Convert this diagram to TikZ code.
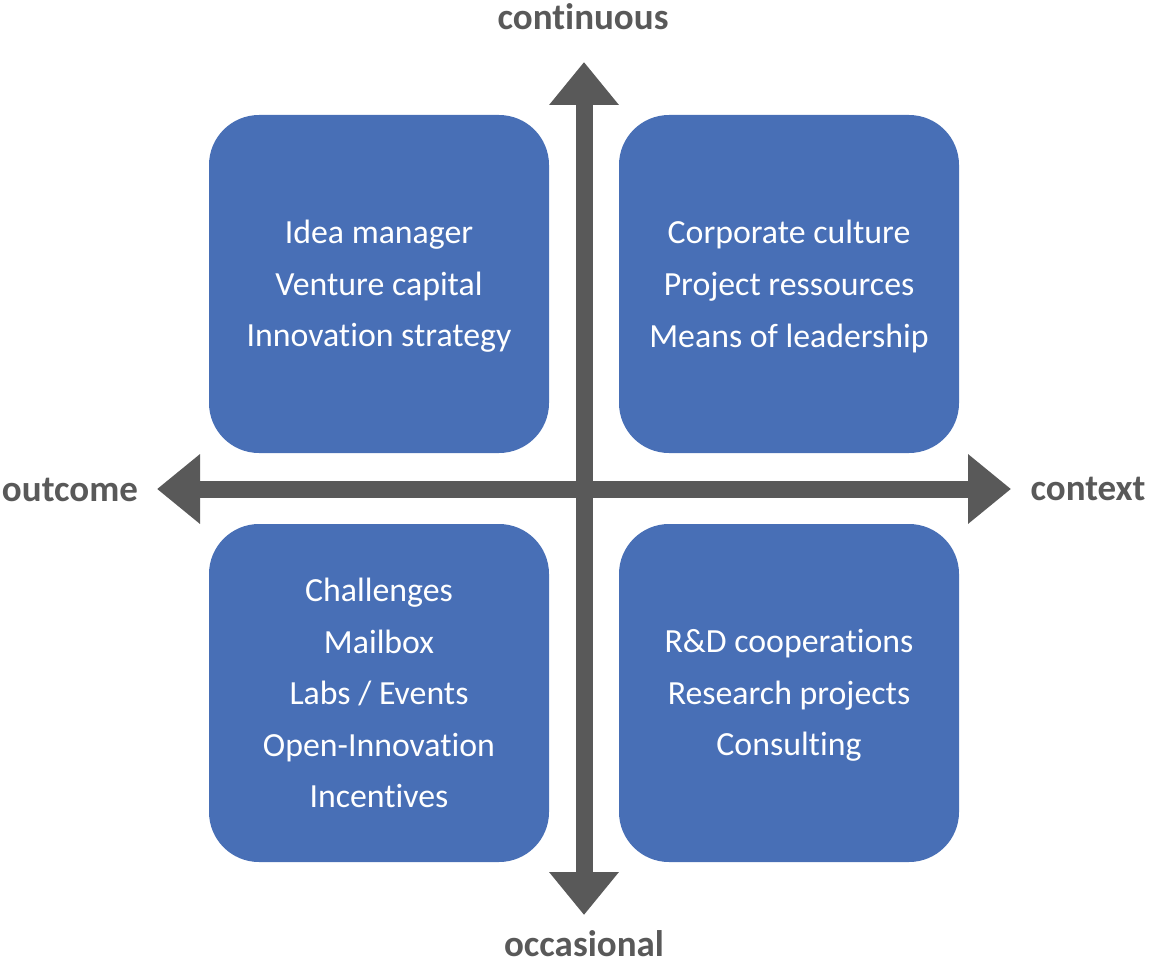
\documentclass[tikz,border=0pt]{standalone}
\usepackage{fontspec}
\setmainfont[Ligatures=NoCommon]{Carlito}
\usetikzlibrary{arrows.meta}
\definecolor{boxblue}{HTML}{486FB6}
\definecolor{axisgray}{HTML}{595959}
\begin{document}
\begin{tikzpicture}[x=1pt,y=-1pt,
  quad/.style={fill=boxblue, draw=none, rounded corners=50pt, minimum width=340pt, minimum height=338pt, inner sep=0pt},
  quadtext/.style={text=white, align=center, font=\fontsize{33.8}{51.6}\selectfont},
  axislabel/.style={text=axisgray, font=\fontsize{37}{44}\selectfont\bfseries, inner sep=0pt},
  axis/.style={draw=axisgray, line width=17pt, {Triangle[width=67pt,length=43pt]}-{Triangle[width=67pt,length=43pt]}}]
\useasboundingbox (0,0) rectangle (1150,963);
\node[quad] (ul) at (379,284) {};
\node[quad] (ur) at (789,284) {};
\node[quad] (ll) at (379,693) {};
\node[quad] (lr) at (789,693) {};
\node[quadtext] (ult) at ([yshift=-2.5pt]ul.center) {Idea manager\\Venture capital\\Innovation strategy};
\node[quadtext] (urt) at ([yshift=-2.5pt]ur.center) {Corporate culture\\Project ressources\\Means of leadership};
\node[quadtext] (llt) at (ll.center) {Challenges\\Mailbox\\Labs / Events\\Open-Innovation\\Incentives};
\node[quadtext] (lrt) at ([yshift=-2.5pt]lr.center) {R\&D cooperations\\Research projects\\Consulting};
\coordinate (top) at (584,62);
\coordinate (bot) at (584,915);
\coordinate (lft) at (157,489);
\coordinate (rgt) at (1011,489);
\draw[axis] (bot) -- (top);
\draw[axis] (lft) -- (rgt);
\node[axislabel] (lc) at (583,17) {continuous};
\node[axislabel] (lo) at (584,944) {occasional};
\node[axislabel] (lout) at (70,490) {outcome};
\node[axislabel] (lctx) at (1088,489) {context};
\end{tikzpicture}
\end{document}
